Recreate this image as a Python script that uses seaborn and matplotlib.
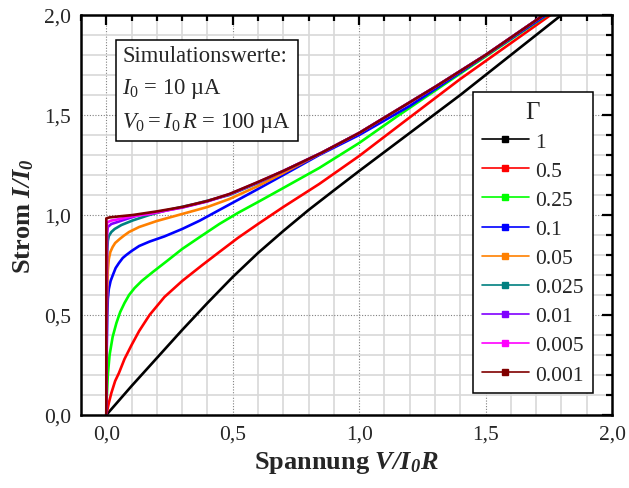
import pandas as pd
import seaborn as sns
import matplotlib.pyplot as plt
from matplotlib.lines import Line2D
from matplotlib.ticker import MultipleLocator

# values (V/I0R, I/I0) for each Gamma
gammas = ["1", "0.5", "0.25", "0.1", "0.05", "0.025", "0.01", "0.005", "0.001"]
colors = ["#000000", "#ff0000", "#00ff00", "#0000ff", "#ff8000",
          "#008080", "#8000ff", "#ff00ff", "#800000"]

v_g1 = [0, 0.1, 0.2, 0.3, 0.4, 0.5, 0.6, 0.7, 0.8, 0.9, 1.0, 1.1, 1.2, 1.3, 1.4, 1.5, 1.6, 1.7, 1.8]
i_g1 = [0, 0.145, 0.285, 0.425, 0.56, 0.69, 0.81, 0.92, 1.025, 1.123, 1.22, 1.315, 1.41, 1.505, 1.60, 1.70, 1.80, 1.90, 2.0]

v_g05 = [0, 0.005, 0.01, 0.02, 0.035, 0.05, 0.072, 0.1, 0.13, 0.171, 0.23, 0.3, 0.38, 0.447,
         0.52, 0.6, 0.7, 0.842, 1.0, 1.171, 1.4, 1.757]
i_g05 = [0, 0.03, 0.06, 0.11, 0.17, 0.21, 0.28, 0.35, 0.42, 0.50, 0.59, 0.67, 0.75, 0.815,
         0.885, 0.955, 1.04, 1.155, 1.295, 1.46, 1.68, 2.0]

v_g025 = [0, 0.002, 0.006, 0.013, 0.025, 0.04, 0.055, 0.072, 0.09, 0.112, 0.14, 0.184, 0.24,
          0.30, 0.37, 0.447, 0.52, 0.6, 0.7, 0.842, 1.0, 1.158, 1.45, 1.743]
i_g025 = [0, 0.09, 0.20, 0.30, 0.39, 0.46, 0.515, 0.56, 0.60, 0.635, 0.67, 0.715, 0.77,
          0.83, 0.89, 0.955, 1.01, 1.065, 1.135, 1.235, 1.36, 1.50, 1.75, 2.0]

v_g01 = [0, 0.001, 0.002, 0.004, 0.006, 0.01, 0.017, 0.026, 0.037, 0.05, 0.065, 0.079, 0.1,
         0.13, 0.171, 0.23, 0.30, 0.37, 0.447, 0.52, 0.6, 0.7, 0.842, 1.0, 1.2, 1.45, 1.74]
i_g01 = [0, 0.2, 0.35, 0.5, 0.58, 0.63, 0.67, 0.70, 0.735, 0.76, 0.785, 0.80, 0.82,
         0.845, 0.867, 0.893, 0.93, 0.972, 1.025, 1.075, 1.13, 1.20, 1.30, 1.40, 1.545, 1.755, 2.0]

v_g005 = [0, 0.001, 0.003, 0.006, 0.01, 0.016, 0.025, 0.035, 0.053, 0.07, 0.09, 0.13, 0.2,
          0.3, 0.4, 0.487, 0.6, 0.7, 0.85, 1.0, 1.15, 1.3, 1.5, 1.73]
i_g005 = [0, 0.35, 0.6, 0.72, 0.78, 0.815, 0.84, 0.86, 0.88, 0.897, 0.915, 0.94, 0.97,
          1.005, 1.04, 1.08, 1.145, 1.21, 1.31, 1.41, 1.525, 1.64, 1.80, 2.0]

v_g0025 = [0, 0.001, 0.003, 0.006, 0.01, 0.02, 0.033, 0.06, 0.105, 0.17, 0.237, 0.35, 0.487,
           0.6, 0.7, 0.85, 1.0, 1.15, 1.3, 1.5, 1.73]
i_g0025 = [0, 0.6, 0.80, 0.87, 0.895, 0.915, 0.93, 0.95, 0.973, 1.0, 1.023, 1.055, 1.10,
           1.16, 1.22, 1.31, 1.41, 1.525, 1.64, 1.80, 2.0]

v_g001 = [0, 0.002, 0.006, 0.02, 0.04, 0.08, 0.13, 0.2, 0.3, 0.4, 0.487, 0.6, 0.7, 0.85,
          1.0, 1.15, 1.3, 1.5, 1.73]
i_g001 = [0, 0.90, 0.94, 0.955, 0.963, 0.98, 1.0, 1.015, 1.037, 1.068, 1.103, 1.163, 1.22, 1.31,
          1.41, 1.525, 1.64, 1.80, 2.0]

v_g0005 = [0, 0.003, 0.02, 0.053, 0.1, 0.171, 0.3, 0.4, 0.487, 0.6, 0.7, 0.85, 1.0, 1.15,
           1.3, 1.5, 1.73]
i_g0005 = [0, 0.963, 0.972, 0.98, 0.993, 1.005, 1.038, 1.069, 1.104, 1.164, 1.22, 1.31, 1.41,
           1.525, 1.64, 1.80, 2.0]

v_g0001 = [0, 0.0, 0.013, 0.05, 0.105, 0.2, 0.3, 0.4, 0.487, 0.6, 0.7, 0.85, 1.0, 1.15,
           1.3, 1.5, 1.73]
i_g0001 = [0, 0.983, 0.988, 0.993, 1.0, 1.018, 1.04, 1.07, 1.105, 1.165, 1.22, 1.31, 1.41,
           1.525, 1.64, 1.80, 2.0]

curves_v = [v_g1, v_g05, v_g025, v_g01, v_g005, v_g0025, v_g001, v_g0005, v_g0001]
curves_i = [i_g1, i_g05, i_g025, i_g01, i_g005, i_g0025, i_g001, i_g0005, i_g0001]

x_ticks = [0.0, 0.5, 1.0, 1.5, 2.0]
x_ticklabels = ["0,0", "0,5", "1,0", "1,5", "2,0"]
y_ticks = [0.0, 0.5, 1.0, 1.5, 2.0]
y_ticklabels = ["0,0", "0,5", "1,0", "1,5", "2,0"]

rows = []
for g, vs, cs in zip(gammas, curves_v, curves_i):
    for v, c in zip(vs, cs):
        rows.append({"gamma": g, "V": v, "I": c})
df = pd.DataFrame(rows)

sns.set_style("white")
plt.rcParams["font.family"] = ["Liberation Serif", "DejaVu Serif"]
plt.rcParams["mathtext.fontset"] = "custom"
plt.rcParams["mathtext.rm"] = "Liberation Serif"
plt.rcParams["mathtext.it"] = "Liberation Serif:italic"
plt.rcParams["mathtext.bf"] = "Liberation Serif:bold"
plt.rcParams["mathtext.bfit"] = "Liberation Serif:bold:italic"

fig = plt.figure(figsize=(6.29, 4.89), dpi=100)
ax = fig.add_axes([0.1288, 0.1493, 0.8442, 0.8180])

sns.lineplot(data=df, x="V", y="I", hue="gamma", hue_order=gammas,
             palette=dict(zip(gammas, colors)), estimator=None, sort=False,
             linewidth=1.9, legend=False, ax=ax)

ax.set_xlim(-0.1, 2.0)
ax.set_ylim(0.0, 2.0)
ax.set_xticks(x_ticks)
ax.set_xticklabels(x_ticklabels)
ax.set_yticks(y_ticks)
ax.set_yticklabels(y_ticklabels)
ax.xaxis.set_minor_locator(MultipleLocator(0.1))
ax.yaxis.set_minor_locator(MultipleLocator(0.1))

ax.grid(which="minor", color="#d8d8d8", linewidth=1.2, linestyle="-")
ax.grid(which="major", color="#808080", linewidth=0.8, linestyle=(0, (1, 1.5)))
ax.set_axisbelow(True)

ax.tick_params(which="both", direction="in", top=True, right=True,
               width=1.6, color="black", labelsize=15.5, pad=7)
ax.tick_params(which="major", length=7)
ax.tick_params(which="minor", length=4)
for s in ax.spines.values():
    s.set_linewidth(1.8)
    s.set_color("black")

ax.set_xlabel(r"$\mathbf{Spannung}$ $\mathbfit{V/I}_{\mathbfit{0}}\mathbfit{R}$",
              fontsize=19, labelpad=4)
ax.set_ylabel(r"$\mathbf{Strom}$ $\mathbfit{I/I}_{\mathbfit{0}}$",
              fontsize=19, labelpad=6)

ax.text(0.078, 0.925,
        "Simulationswerte:\n$I_{\\mathit{0}}$ = 10 µA\n"
        "$V_{\\mathit{0}} = I_{\\mathit{0}}\\,R$ = 100 µA",
        transform=ax.transAxes, ha="left", va="top", fontsize=16.3,
        linespacing=1.6,
        bbox=dict(boxstyle="square,pad=0.3", facecolor="white",
                  edgecolor="black", linewidth=1.1))

handles = [Line2D([], [], color=c, linewidth=1.2, marker="s", markersize=4)
           for c in colors]
leg = ax.legend(handles, gammas, title="Γ", loc="upper left",
                bbox_to_anchor=(0.738, 0.8075), fontsize=15.5,
                title_fontsize=18, fancybox=False, framealpha=1,
                edgecolor="black", handlelength=2.2, labelspacing=0.42,
                borderpad=0.4, handletextpad=0.3, borderaxespad=0)
leg.get_frame().set_linewidth(1.1)

fig.savefig("out.png", dpi=100)
